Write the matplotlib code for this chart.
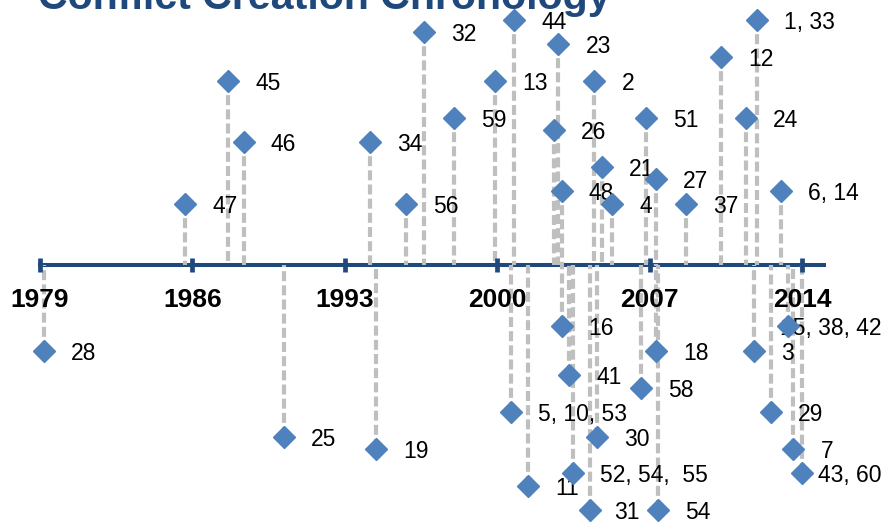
import matplotlib
matplotlib.use("Agg")
import matplotlib.pyplot as plt

plt.rcParams['font.family'] = ['Liberation Sans', 'DejaVu Sans']

# event data: year (fractional), stem height, label
labels = ["28", "47", "45", "46", "25", "34", "19", "56", "32", "59",
          "13", "5, 10, 53", "44", "11", "26", "23", "48", "16", "41", "52, 54,  55",
          "31", "2", "30", "21", "4", "58", "51", "18", "27", "54",
          "37", "12", "24", "3", "1, 33", "29", "6, 14", "15, 38, 42", "7", "43, 60"]
years = [1979.17, 1985.67, 1987.65, 1988.36, 1990.22, 1994.16, 1994.43, 1995.81, 1996.65, 1998.02,
         1999.90, 2000.63, 2000.77, 2001.43, 2002.62, 2002.81, 2002.96, 2002.96, 2003.31, 2003.47,
         2004.26, 2004.46, 2004.60, 2004.81, 2005.29, 2006.59, 2006.82, 2007.28, 2007.29, 2007.40,
         2008.67, 2010.27, 2011.43, 2011.81, 2011.95, 2012.56, 2013.02, 2013.37, 2013.60, 2013.99]
heights = [-7, 5, 15, 10, -14, 10, -15, 5, 19, 12,
           15, -12, 20, -18, 11, 18, 6, -5, -9, -17,
           -20, 15, -14, 8, 5, -10, 12, -7, 7, -20,
           5, 17, 12, -7, 20, -12, 6, -5, -15, -17]
tick_years = [1979, 1986, 1993, 2000, 2007, 2014]

navy = '#1F497D'
blue = '#4F81BD'
grey = '#BFBFBF'

# a few labels were nudged by hand in the original (offsets in points)
label_shift = {"15, 38, 42": -6.0, "43, 60": 11.5, "31": 17.5}

fig = plt.figure(figsize=(8.88, 5.25), dpi=100)
ax = fig.add_axes([0, 0, 1, 1])
ax.set_xlim(1977.163, 2017.95)
ax.set_ylim(-21.22, 21.63)

for x, y, lab in zip(years, heights, labels):
    ax.plot([x, x], [y, 0], color=grey, lw=3.0, ls=(0, (2.4, 1.0)),
            solid_capstyle='butt', dash_capstyle='butt', zorder=3)
    ax.annotate(lab, (x, y), xytext=(label_shift.get(lab, 19.5), 0),
                textcoords='offset points', ha='left', va='center_baseline',
                fontsize=16.5, color='black', zorder=3.5)
ax.plot(years, heights, ls='none', marker='D', ms=10.7, color=blue,
        mec=blue, zorder=4)

# timeline axis
for side in ['left', 'right', 'top']:
    ax.spines[side].set_visible(False)
ax.spines['bottom'].set_position(('data', 0))
ax.spines['bottom'].set_bounds(1979, 2015)
ax.spines['bottom'].set_color(navy)
ax.spines['bottom'].set_linewidth(2.9)
ax.set_xticks(tick_years)
ax.set_xticklabels([str(t) for t in tick_years], fontsize=19, fontweight='bold')
ax.tick_params(axis='x', direction='inout', length=9.5, width=3.4,
               color=navy, pad=11.5)
ax.set_yticks([])
ax.xaxis.set_zorder(3.2)  # year labels sit over the drop lines

fig.text(38/888, 1 - 9/525, "Conflict Creation Chronology", ha='left',
         va='baseline', fontsize=29.6, fontweight='bold', color=navy)

fig.savefig("out.png", dpi=100)
